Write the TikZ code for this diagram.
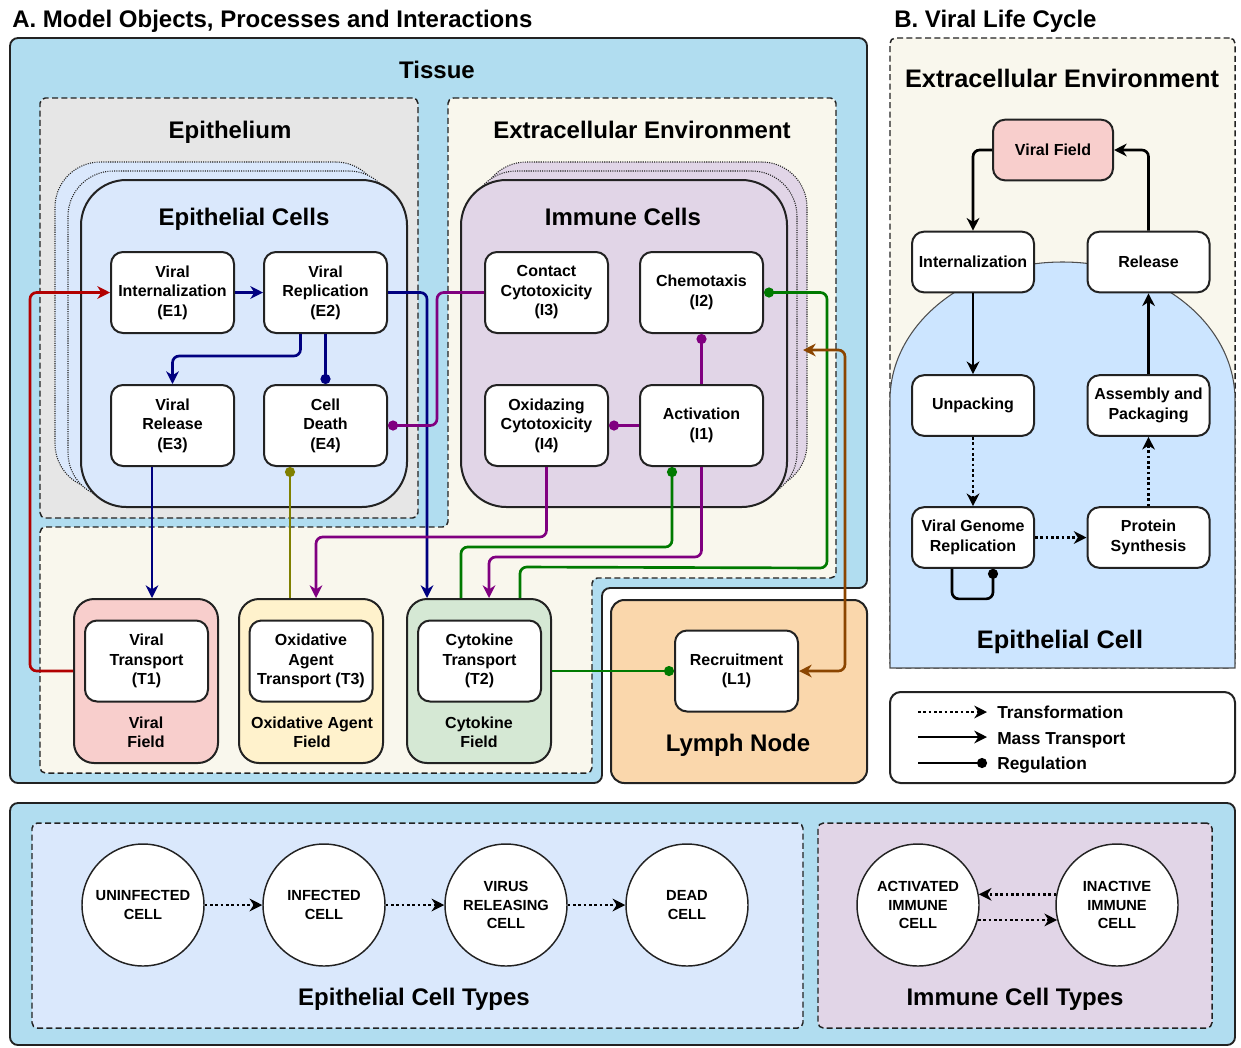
\documentclass[tikz,border=0pt]{standalone}
\usepackage{fontspec}
\setmainfont{Liberation Sans}
\usetikzlibrary{arrows.meta,calc}
\definecolor{tissueblue}{HTML}{B1DDF0}
\definecolor{epigray}{HTML}{E6E6E6}
\definecolor{extra}{HTML}{F9F7ED}
\definecolor{epicell}{HTML}{DAE8FC}
\definecolor{immcell}{HTML}{E1D5E7}
\definecolor{virfield}{HTML}{F8CECC}
\definecolor{oxfield}{HTML}{FFF2CC}
\definecolor{cytfield}{HTML}{D5E8D4}
\definecolor{lymph}{HTML}{FAD7AC}
\definecolor{bcell}{HTML}{CCE5FF}
\definecolor{cNavy}{HTML}{000080}
\definecolor{cRed}{HTML}{B20000}
\definecolor{cPurple}{HTML}{800080}
\definecolor{cGreen}{HTML}{007A00}
\definecolor{cOlive}{HTML}{808000}
\definecolor{cBrown}{HTML}{8B4500}
\definecolor{edge}{HTML}{222222}
\tikzset{
  txt/.style={font=\bfseries\fontsize{12}{14.6}\selectfont, align=center, inner sep=0pt},
  big/.style={font=\bfseries\fontsize{18}{21}\selectfont, inner sep=0pt},
  bigb/.style={font=\bfseries\fontsize{19}{22}\selectfont, inner sep=0pt},
  legtxt/.style={font=\bfseries\fontsize{13}{15}\selectfont, inner sep=0pt, anchor=base west},
  proc/.style={draw=edge, line width=1.5pt, fill=white, rounded corners=9pt, minimum width=92.25pt, minimum height=60.75pt, align=center, inner sep=1pt, font=\bfseries\fontsize{12}{14.6}\selectfont},
  bproc/.style={proc, minimum width=91.5pt, minimum height=45.5pt},
  zone/.style={draw=edge, line width=1.1pt, dash pattern=on 4.5pt off 2.5pt, rounded corners=4pt, inner sep=0pt},
  cellbox/.style={draw=edge, line width=1.5pt, rounded corners=34pt, minimum width=244.5pt, minimum height=245.25pt, inner sep=0pt},
  cellcopy/.style={draw=edge, line width=0.8pt, dash pattern=on 0.8pt off 0.9pt, rounded corners=34pt, minimum width=244.5pt, minimum height=245.25pt, inner sep=0pt},
  field/.style={draw=edge, line width=1.5pt, rounded corners=15pt, minimum width=108pt, minimum height=123pt, inner sep=0pt},
  conn/.style={line width=2pt, rounded corners=5pt},
  tipA/.tip={Stealth[length=9.5pt,width=9.5pt,inset=3pt]},
  mass/.style={conn, -tipA},
  reg/.style={conn, -{Circle[length=7.5pt]}},
  trans/.style={line width=2pt, dash pattern=on 2pt off 2pt, -tipA},
  state/.style={circle, draw=edge, line width=1.1pt, fill=white, minimum size=91.5pt, inner sep=0pt, align=center, font=\bfseries\fontsize{11}{14}\selectfont},
}
\begin{document}
\begin{tikzpicture}[x=0.75pt,y=-0.75pt, every node/.style={font=\bfseries}]
\useasboundingbox (0,0) rectangle (1241,1047);
\fill[white] (0,0) rectangle (1241,1047);

% ---------- titles
\node[big, anchor=base west] (titA) at (12,27) {A. Model Objects, Processes and Interactions};
\node[big, anchor=base west] (titB) at (894,27) {B. Viral Life Cycle};

% ---------- Panel A containers
\draw[draw=edge, line width=1.4pt, fill=tissueblue, rounded corners=6pt]
  (10,38) -- (867,38) -- (867,588) -- (602,588) -- (602,783) -- (10,783) -- cycle;
\node[big, anchor=base] (tisLab) at (437,78) {Tissue};

\node[zone, fill=epigray, minimum width=283.5pt, minimum height=315pt] (epith) at (229,308) {};
\draw[zone, fill=extra] (448,98) -- (836,98) -- (836,578) -- (592,578) -- (592,773)
  -- (40,773) -- (40,527) -- (448,527) -- cycle;
\node[big, anchor=base] (epiLab) at (230,138) {Epithelium};
\node[big, anchor=base] (extLab) at (642,138) {Extracellular Environment};

\node[cellcopy, fill=epicell] (epcB) at (218,325.5) {};
\node[cellcopy, fill=epicell] (epcA) at (231,334.5) {};
\node[cellbox, fill=epicell] (epc) at (244,343.5) {};
\node[big, anchor=base] (epcLab) at (244,225) {Epithelial Cells};

\node[cellcopy, fill=immcell] (imcB) at (644,325.5) {};
\node[cellcopy, fill=immcell] (imcA) at (634,334.5) {};
\node[cellbox, fill=immcell] (imc) at (624,343.5) {};
\node[big, anchor=base] (imcLab) at (623,225) {Immune Cells};

% processes
\node[proc] (e1) at (172.5,292.5) {Viral\\Internalization\\(E1)};
\node[proc] (e2) at (325.5,292.5) {Viral\\Replication\\(E2)};
\node[proc] (e3) at (172.5,425.5) {Viral\\Release\\(E3)};
\node[proc] (e4) at (325.5,425.5) {Cell\\Death\\(E4)};
\node[proc] (i3) at (546.5,292.5) {Contact\\Cytotoxicity\\(I3)};
\node[proc] (i2) at (701.5,292.5) {Chemotaxis\\(I2)};
\node[proc] (i4) at (546.5,425.5) {Oxidazing\\Cytotoxicity\\(I4)};
\node[proc] (i1) at (701.5,425.5) {Activation\\(I1)};

% fields
\node[field, fill=virfield] (vf) at (146,681) {};
\node[proc] (t1) at (146.5,661) {Viral\\Transport\\(T1)};
\node[txt] (vfLab) at (146,732) {Viral\\Field};
\node[field, fill=oxfield] (of) at (311,681) {};
\node[proc] (t3) at (311,661) {Oxidative\\Agent\\Transport (T3)};
\node[txt] (ofLab) at (312,732) {Oxidative Agent\\Field};
\node[field, fill=cytfield] (cf) at (479,681) {};
\node[proc] (t2) at (479.5,661) {Cytokine\\Transport\\(T2)};
\node[txt] (cfLab) at (479,732) {Cytokine\\Field};

% lymph node
\node[draw=edge, line width=1.5pt, fill=lymph, rounded corners=10pt, minimum width=192pt, minimum height=137.25pt, inner sep=0pt] (ln) at (739,691.5) {};
\node[proc] (l1) at (736.5,671) {Recruitment\\(L1)};
\node[big, anchor=base] (lnLab) at (738,751) {Lymph Node};

% ---------- Panel A connectors
\draw[mass, cRed] ($(vf.west)+(0,-10)$) -- (30,671) |- (e1.west);
\draw[mass, cNavy] (e1.east) -- (e2.west);
\draw[mass, cNavy] ($(e2.south)+(-25,0)$) -- ++(0,22) -| (e3.north);
\draw[reg, cNavy] (e2.south) -- (e4.north);
\draw[mass, cNavy] (e2.east) -| ($(cf.north west)+(21,0)$);
\draw[mass, cNavy] ($(e3.south)+(-20.5,0)$) -- ($(vf.north)+(6,0)$);
\draw[reg, cOlive] ($(of.north)+(-21,0)$) -- ($(e4.south)+(-35.5,0)$);
\draw[reg, cPurple] (i3.west) -| (437,380) |- (e4.east);
\draw[reg, cPurple] (i1.north) -- (i2.south);
\draw[reg, cPurple] (i1.west) -- (i4.east);
\draw[mass, cPurple] (i4.south) -- ++(0,70) -| ($(of.north)+(5,0)$);
\draw[mass, cPurple] (i1.south) -- ++(0,90) -| ($(cf.north)+(10,0)$);
\draw[reg, cGreen] ($(cf.north)+(-18,0)$) -- ++(0,-51) -| ($(i1.south)+(-29.5,0)$);
\draw[reg, cGreen] ($(cf.north)+(41,0)$) -- ++(0,-31) -- (827,568) |- (i2.east);
\draw[reg, cGreen] (l1.west -| cf.east) -- (l1.west);
\coordinate (immtip) at (803,350);
\draw[conn, cBrown, tipA-tipA] (immtip) -- (845,350) |- (l1.east);

% ---------- Panel B
\node[zone, fill=extra, minimum width=258.75pt, minimum height=472.5pt] (bext) at (1062.5,353) {};
\draw[draw=edge!80, line width=0.8pt, fill=bcell] (890,668) -- (890,400)
  arc[start angle=180, end angle=0, x radius=129.375pt, y radius=103.5pt] -- (1235,668) -- cycle;
\node[bigb, anchor=base] (bextLab) at (1062,87) {Extracellular Environment};
\node[bigb, anchor=base] (bcellLab) at (1060,648) {Epithelial Cell};

\node[bproc, fill=virfield, minimum width=90pt] (bvf) at (1053,150) {Viral Field};
\node[bproc] (bint) at (973,262) {Internalization};
\node[bproc] (brel) at (1148.5,262) {Release};
\node[bproc] (bunp) at (973,405.5) {Unpacking};
\node[bproc] (bass) at (1148.5,405.5) {Assembly and\\Packaging};
\node[bproc] (bvgr) at (973,537.5) {Viral Genome\\Replication};
\node[bproc] (bps) at (1148.5,537.5) {Protein\\Synthesis};

\draw[mass] (bvf.west) -| (bint.north);
\draw[mass] (brel.north) |- (bvf.east);
\draw[mass] (bint) -- (bunp);
\draw[mass] (bass) -- (brel);
\draw[trans] (bunp) -- (bvgr);
\draw[trans] (bvgr) -- (bps);
\draw[trans] (bps) -- (bass);
\draw[reg] ($(bvgr.south)+(-21,0)$) -- ++(0,30) -| ($(bvgr.south)+(20,0)$);

% legend
\node[draw=edge, line width=1.5pt, fill=white, rounded corners=8pt, minimum width=258.75pt, minimum height=68.25pt, inner sep=0pt] (leg) at (1062.5,737.5) {};
\node[legtxt] (lt1) at (997,718) {Transformation};
\node[legtxt] (lt2) at (997,744) {Mass Transport};
\node[legtxt] (lt3) at (997,769) {Regulation};
\coordinate (lg1) at (918,712);
\coordinate (lg2) at (918,737);
\coordinate (lg3) at (918,763);
\coordinate (lh1) at (987,712);
\coordinate (lh2) at (987,737);
\coordinate (lh3) at (987,763);
\draw[trans] (lg1) -- (lh1);
\draw[mass] (lg2) -- (lh2);
\draw[reg] (lg3) -- (lh3);

% ---------- Bottom panel
\node[draw=edge, line width=1.4pt, fill=tissueblue, rounded corners=6pt, minimum width=918.75pt, minimum height=181.5pt, inner sep=0pt] (bot) at (622.5,924) {};
\node[zone, fill=epicell, minimum width=578.25pt, minimum height=153.75pt] (ect) at (417.5,925.5) {};
\node[zone, fill=immcell, minimum width=295.5pt, minimum height=153.75pt] (ict) at (1015,925.5) {};

\node[state] (s1) at (143,905) {UNINFECTED\\CELL};
\node[state] (s2) at (324,905) {INFECTED\\CELL};
\node[state] (s3) at (506,905) {VIRUS\\RELEASING\\CELL};
\node[state] (s4) at (687,905) {DEAD\\CELL};
\node[state] (s5) at (918,905) {ACTIVATED\\IMMUNE\\CELL};
\node[state] (s6) at (1117,905) {INACTIVE\\IMMUNE\\CELL};
\draw[trans] (s1) -- (s2);
\draw[trans] (s2) -- (s3);
\draw[trans] (s3) -- (s4);
\draw[trans] (s6.170) -- (s5.10);
\draw[trans] (s5.-14) -- (s6.194);

\node[big, anchor=base] (ectLab) at (414,1005) {Epithelial Cell Types};
\node[big, anchor=base] (ictLab) at (1015,1005) {Immune Cell Types};
\end{tikzpicture}
\end{document}
